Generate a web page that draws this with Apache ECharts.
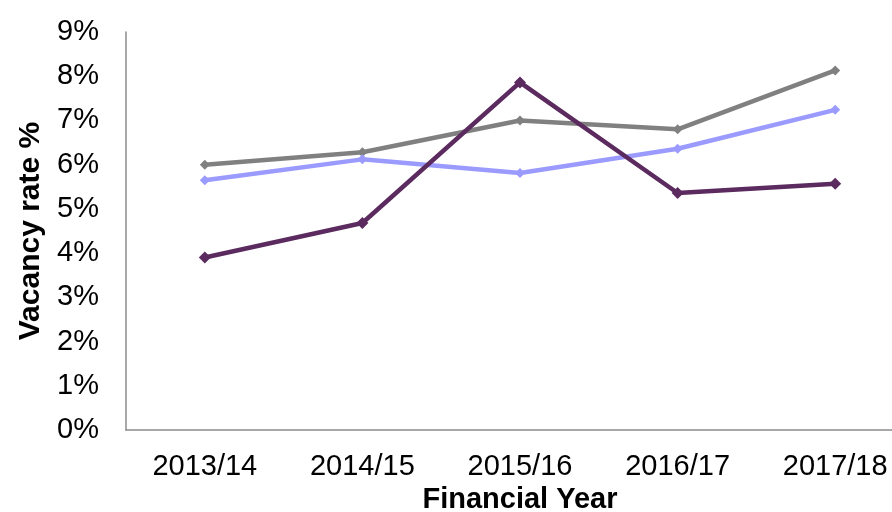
<!DOCTYPE html>
<html>
<head>
<meta charset="utf-8">
<script src="https://cdn.jsdelivr.net/npm/echarts@6/dist/echarts.min.js"></script>
<style>
  html, body { margin: 0; padding: 0; background: #fff; }
  #chart { width: 892px; height: 512px; }
</style>
</head>
<body>
<div id="chart"></div>
<script>
// categories and values (vacancy rate, %)
var years = ["2013/14", "2014/15", "2015/16", "2016/17", "2017/18"];
var greySeries = [6.0, 6.28, 7.0, 6.8, 8.13];
var blueSeries = [5.65, 6.12, 5.81, 6.36, 7.24];
var purpleSeries = [3.9, 4.68, 7.86, 5.36, 5.57];
var yTicks = [0, 1, 2, 3, 4, 5, 6, 7, 8, 9];

var font = "'Liberation Sans', Arial, sans-serif";

function line(name, data, color, size) {
  return {
    name: name,
    type: "line",
    data: data,
    symbol: "diamond",
    symbolSize: size,
    showSymbol: true,
    itemStyle: { color: color },
    lineStyle: { color: color, width: 4.5 }, // thick excel style lines
    z: name === "purple" ? 3 : 2
  };
}

var myChart = echarts.init(document.getElementById("chart"));
myChart.setOption({
  animation: false,
  grid: {
    left: 126,
    top: 32,
    bottom: 82,
    width: 788, // plot runs past the right edge like the original
    containLabel: false,
    outerBoundsMode: "none"
  },
  xAxis: {
    type: "category",
    data: years,
    boundaryGap: true,
    axisLine: { lineStyle: { color: "#8c8c8c", width: 1.5 } },
    axisTick: { show: false },
    axisLabel: { color: "#000", fontSize: 29, fontFamily: font, margin: 22 },
    name: "Financial Year",
    nameLocation: "middle",
    nameGap: 52,
    nameTextStyle: { color: "#000", fontSize: 29, fontWeight: "bold", fontFamily: font }
  },
  yAxis: {
    type: "value",
    min: yTicks[0],
    max: yTicks[yTicks.length - 1],
    interval: 1,
    axisLine: { show: true, lineStyle: { color: "#8c8c8c", width: 1.5 } },
    axisTick: { show: false },
    splitLine: { show: false },
    axisLabel: {
      color: "#000",
      fontSize: 29,
      fontFamily: font,
      margin: 27,
      formatter: function (v) { return v + "%"; }
    },
    name: "Vacancy rate %",
    nameLocation: "middle",
    nameGap: 71,
    nameTextStyle: { color: "#000", fontSize: 30, fontWeight: "bold", fontFamily: font }
  },
  series: [
    line("grey", greySeries, "#808080", 10),
    line("blue", blueSeries, "#9b9bff", 10),
    line("purple", purpleSeries, "#5b2a5e", 12)
  ]
});
</script>
</body>
</html>
